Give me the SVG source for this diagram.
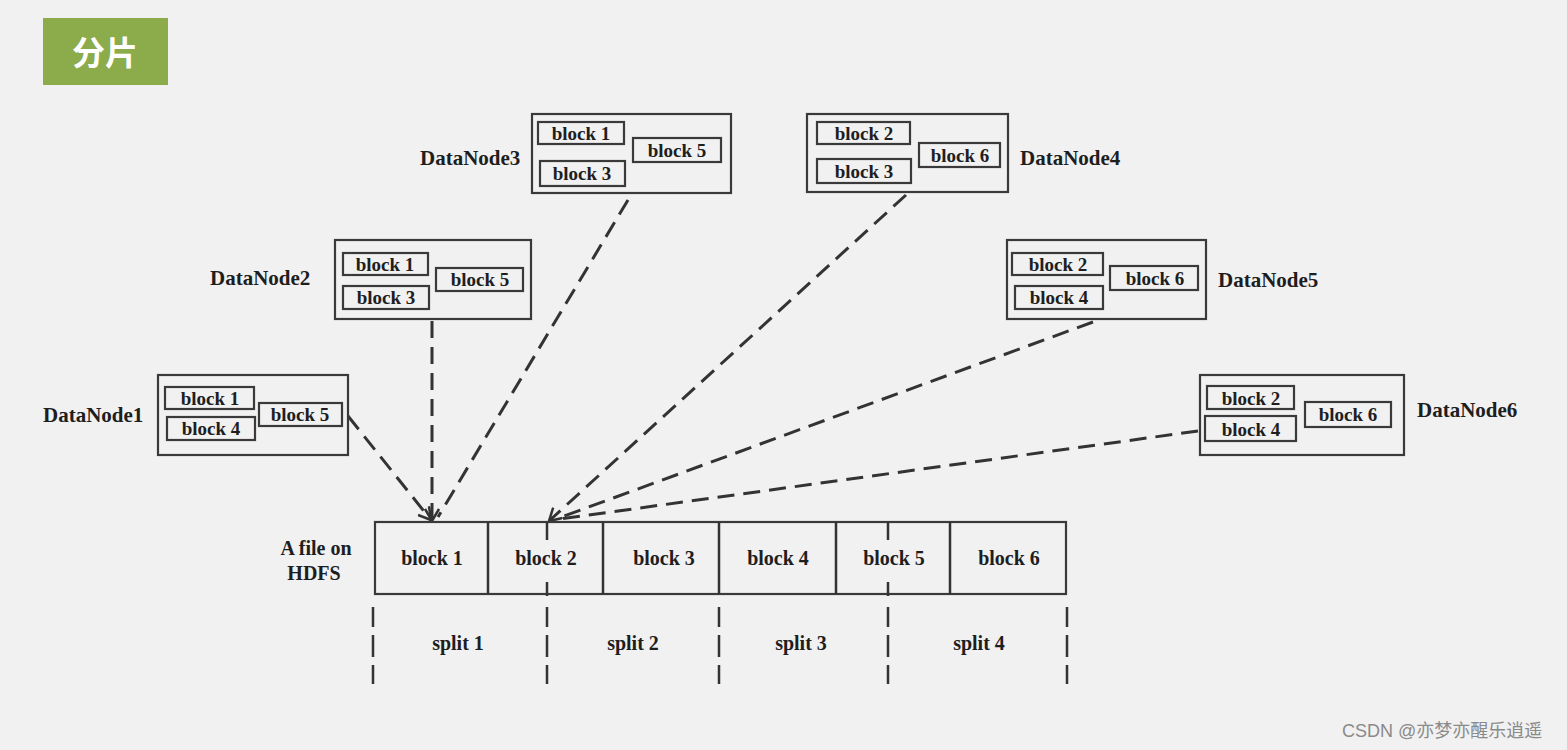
<svg xmlns="http://www.w3.org/2000/svg" width="1567" height="750" viewBox="0 0 1567 750">
<defs>
<style>
.bg{fill:#f1f1f1}
.box{fill:none;stroke:#3a3a3a;stroke-width:2.2}
.ib{fill:none;stroke:#3a3a3a;stroke-width:2.2}
.t{font-family:"Liberation Serif","Times New Roman",serif;font-weight:bold;fill:#1e1e1e}
.tb{font-size:19px}
.tf{font-size:20px}
.tl{font-size:21px}
.dash{fill:none;stroke:#333;stroke-width:3;stroke-dasharray:17 9}
.seg{fill:none;stroke:#333;stroke-width:2.5}
.ah{fill:none;stroke:#333;stroke-width:2.5}
</style>
<marker id="arr" viewBox="0 0 14 16" refX="13" refY="8" markerWidth="14" markerHeight="16" markerUnits="userSpaceOnUse" orient="auto">
<path class="ah" d="M1,1 L13,8 L1,15"/>
</marker>
</defs>
<rect class="bg" x="0" y="0" width="1567" height="750"/>

<g id="title">
<rect x="43" y="18" width="125" height="67" fill="#8cab4a"/>
<text x="105" y="65" text-anchor="middle" font-family="'Noto Sans CJK SC',sans-serif" font-weight="bold" font-size="33" fill="#fff">分片</text>
</g>

<g id="connectors">
<line class="dash" x1="348" y1="416" x2="431" y2="520" marker-end="url(#arr)"/>
<line class="dash" x1="432" y1="321" x2="432" y2="521" marker-end="url(#arr)"/>
<line class="dash" x1="628" y1="200" x2="438" y2="517"/>
<line class="dash" x1="906" y1="195" x2="549" y2="521" marker-end="url(#arr)"/>
<line class="dash" x1="1093" y1="322" x2="556" y2="519"/>
<line class="dash" x1="1198" y1="431" x2="560" y2="519"/>
</g>

<g id="DataNode1">
<rect class="box" x="158" y="375" width="190" height="80"/>
<rect class="ib" x="165" y="387" width="89" height="22"/>
<rect class="ib" x="167" y="417" width="88" height="23"/>
<rect class="ib" x="259" y="403" width="83" height="23"/>
<text class="t tb" x="210" y="405" text-anchor="middle">block 1</text>
<text class="t tb" x="211" y="435" text-anchor="middle">block 4</text>
<text class="t tb" x="300" y="421" text-anchor="middle">block 5</text>
<text class="t tl" x="43" y="422">DataNode1</text>
</g>

<g id="DataNode2">
<rect class="box" x="335" y="240" width="196" height="79"/>
<rect class="ib" x="343" y="253" width="85" height="22"/>
<rect class="ib" x="343" y="286" width="86" height="23"/>
<rect class="ib" x="436" y="268" width="87" height="23"/>
<text class="t tb" x="385" y="271" text-anchor="middle">block 1</text>
<text class="t tb" x="386" y="304" text-anchor="middle">block 3</text>
<text class="t tb" x="480" y="286" text-anchor="middle">block 5</text>
<text class="t tl" x="210" y="285">DataNode2</text>
</g>

<g id="DataNode3">
<rect class="box" x="532" y="114" width="199" height="79"/>
<rect class="ib" x="538" y="122" width="86" height="22"/>
<rect class="ib" x="540" y="161" width="85" height="25"/>
<rect class="ib" x="633" y="138" width="88" height="24"/>
<text class="t tb" x="581" y="140" text-anchor="middle">block 1</text>
<text class="t tb" x="582" y="180" text-anchor="middle">block 3</text>
<text class="t tb" x="677" y="157" text-anchor="middle">block 5</text>
<text class="t tl" x="420" y="165">DataNode3</text>
</g>

<g id="DataNode4">
<rect class="box" x="807" y="114" width="201" height="78"/>
<rect class="ib" x="817" y="122" width="93" height="22"/>
<rect class="ib" x="817" y="159" width="94" height="24"/>
<rect class="ib" x="919" y="143" width="81" height="24"/>
<text class="t tb" x="864" y="140" text-anchor="middle">block 2</text>
<text class="t tb" x="864" y="178" text-anchor="middle">block 3</text>
<text class="t tb" x="960" y="162" text-anchor="middle">block 6</text>
<text class="t tl" x="1020" y="165">DataNode4</text>
</g>

<g id="DataNode5">
<rect class="box" x="1007" y="240" width="199" height="79"/>
<rect class="ib" x="1012" y="253" width="91" height="22"/>
<rect class="ib" x="1015" y="286" width="88" height="23"/>
<rect class="ib" x="1110" y="266" width="88" height="24"/>
<text class="t tb" x="1058" y="271" text-anchor="middle">block 2</text>
<text class="t tb" x="1059" y="304" text-anchor="middle">block 4</text>
<text class="t tb" x="1155" y="285" text-anchor="middle">block 6</text>
<text class="t tl" x="1218" y="287">DataNode5</text>
</g>

<g id="DataNode6">
<rect class="box" x="1200" y="375" width="204" height="80"/>
<rect class="ib" x="1207" y="386" width="87" height="23"/>
<rect class="ib" x="1205" y="416" width="91" height="25"/>
<rect class="ib" x="1305" y="402" width="86" height="25"/>
<text class="t tb" x="1251" y="405" text-anchor="middle">block 2</text>
<text class="t tb" x="1251" y="436" text-anchor="middle">block 4</text>
<text class="t tb" x="1348" y="421" text-anchor="middle">block 6</text>
<text class="t tl" x="1417" y="417">DataNode6</text>
</g>

<g id="file">
<rect class="box" x="375" y="522" width="691" height="72"/>
<line class="seg" x1="488" y1="522" x2="488" y2="594"/>
<line class="seg" x1="603" y1="522" x2="603" y2="594"/>
<line class="seg" x1="719" y1="522" x2="719" y2="594"/>
<line class="seg" x1="836" y1="522" x2="836" y2="594"/>
<line class="seg" x1="950" y1="522" x2="950" y2="594"/>
<text class="t tf" x="432" y="565" text-anchor="middle">block 1</text>
<text class="t tf" x="546" y="565" text-anchor="middle">block 2</text>
<text class="t tf" x="664" y="565" text-anchor="middle">block 3</text>
<text class="t tf" x="778" y="565" text-anchor="middle">block 4</text>
<text class="t tf" x="894" y="565" text-anchor="middle">block 5</text>
<text class="t tf" x="1009" y="565" text-anchor="middle">block 6</text>
<text class="t tf" x="316" y="555" text-anchor="middle">A file on</text>
<text class="t tf" x="314" y="580" text-anchor="middle">HDFS</text>
</g>

<g id="splits">
<path class="seg" d="M373,607 V627 M373,635 V657 M373,665 V684"/>
<path class="seg" d="M547,522 V540 M547,582 V596 M547,607 V627 M547,635 V657 M547,665 V684"/>
<path class="seg" d="M719,607 V627 M719,635 V657 M719,665 V684"/>
<path class="seg" d="M888,522 V540 M888,582 V596 M888,607 V627 M888,635 V657 M888,665 V684"/>
<path class="seg" d="M1067,607 V627 M1067,635 V657 M1067,665 V684"/>
<text class="t tf" x="458" y="650" text-anchor="middle">split 1</text>
<text class="t tf" x="633" y="650" text-anchor="middle">split 2</text>
<text class="t tf" x="801" y="650" text-anchor="middle">split 3</text>
<text class="t tf" x="979" y="650" text-anchor="middle">split 4</text>
</g>

<g id="watermark">
<text x="1342" y="737" font-family="'Liberation Sans','Noto Sans CJK SC',sans-serif" font-size="18" fill="#8a8a8a">CSDN @亦梦亦醒乐逍遥</text>
</g>
</svg>
